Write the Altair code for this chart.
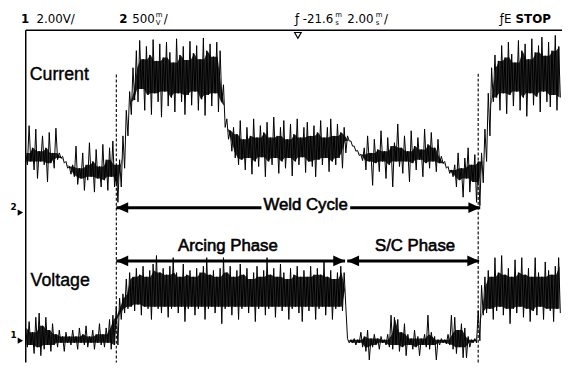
import altair as alt
import pandas as pd

SAMPLE_MS = 0.125          # one column of the trace every 0.125 ms (2.00 ms/div)

# Channel 2 (current probe, 500 mV/div): top and bottom of the trace in each column
current_hi_mv = [
    700, 1020, 760, 980, 720, 900, 760, 940, 700, 990,
    700, 660, 600, 540,
    560, 780, 520, 700, 560, 820, 600, 740, 540, 800, 620, 760, 840, 560,
    620, 900, 1200, 1420, 1700,
    1900, 2020, 1800, 1950, 1850, 2030, 1780, 1980, 1820, 2000, 1880, 1760, 2040,
    1850, 1950, 1790, 2010, 1870, 1960, 1800, 2050, 1900, 1980, 1830, 2000, 1900,
    1500, 1100, 960,
    1000, 920, 1080, 860, 1000, 900, 1100, 880, 1020, 940, 1060, 880, 1120, 900,
    1000, 1080, 860, 1040, 920, 1100, 880, 1000, 1060, 900, 1020, 940, 1080, 880,
    1000, 1100, 900, 1040, 940, 1000,
    900, 840, 780, 730, 680,
    760, 900, 700, 860, 740, 960, 720, 880, 780, 820, 1040, 760, 900, 720, 960,
    780, 880, 740, 980, 800, 940, 760, 860,
    660, 600, 540, 500,
    560, 700, 520, 640, 760, 560, 680, 600,
    700, 980, 1400, 1700,
    1850, 1780, 1960, 1820, 2000, 1860, 1760, 2020, 1900, 1980, 1800, 2040, 1880,
    1960, 2060, 1840, 2000, 1900, 2080, 1950,
]
current_lo_mv = [
    560, 600, 500, 400, 600, 560, 360, 580, 520, 620,
    640, 580, 520, 450,
    420, 330, 400, 260, 380, 420, 240, 400, 300, 380, 260, 420, 300, 120,
    300, 520, 900, 1150, 1320,
    1300, 1450, 1200, 1380, 1150, 1400, 1300, 1120, 1420, 1250, 1350, 1180, 1400,
    1300, 1150, 1380, 1260, 1420, 1200, 1330, 1140, 1380, 1250, 1400, 1180, 1300,
    1000, 860, 720,
    640, 560, 620, 500, 640, 450, 600, 540, 650, 420, 600, 560, 640, 460, 600,
    520, 640, 430, 600, 560, 650, 470, 600, 540, 420, 620, 560, 640, 480, 600,
    560, 640, 520, 700,
    840, 780, 720, 670, 610,
    500, 600, 320, 580, 480, 600, 400, 560, 300, 600, 540, 460, 600, 360, 580,
    500, 620, 420, 580, 520, 600, 480, 580,
    580, 520, 460, 420,
    300, 380, 180, 400, 240, 360, 120, 80,
    350, 600, 900, 1300,
    1350, 1200, 1400, 1160, 1380, 1250, 1420, 1200, 1350, 1130, 1400, 1260, 1360,
    1180, 1420, 1300, 1240, 1380, 1200, 1350,
]

# Channel 1 (arc voltage, 2.00 V/div): top and bottom of the trace in each column
voltage_hi_v = [
    0.6, 0.9, 0.4, 1.1, 1.3, 0.7, 1.1, 0.5, 0.8, 0.3, 0.5, 0.2, 0.4, 0.2, 0.5,
    0.2, 0.6, 0.3, 0.7, 0.2, 0.5, 0.3, 0.8, 0.3, 0.6, 1.0, 1.2,
    1.6, 2.0, 2.2,
    2.9, 3.2, 3.0, 3.4, 3.1, 3.5, 3.0, 3.3, 3.6, 4.0, 3.2, 3.4, 3.1, 3.5, 3.9,
    3.2, 3.0, 3.6, 3.1, 3.3, 3.0, 3.4, 3.2, 3.5, 3.9, 3.1, 3.3, 3.0, 3.4, 3.9,
    3.2, 3.5, 3.0, 3.3, 3.6, 3.1, 3.4, 2.9, 3.2, 3.5, 3.0, 3.3, 3.9, 3.1, 3.4,
    3.0, 3.6, 3.2, 2.9, 3.4, 3.1, 3.5, 3.0, 3.3, 3.0, 3.5, 3.1, 3.4, 3.1, 3.7,
    3.0, 3.3, 2.9, 3.2, 3.5, 3.2,
    0.1,
    0.05, 0.1, 0.05, 0.4, 0.2, 0.5, 0.1, 0.3, 0.1, 0.2, 0.05, 0.3, 1.2, 1.1, 1.0,
    0.4, 0.8, 0.3, 0.1, 0.5, 0.2, 0.1, 0.3, 1.2, 0.4, 0.2, 0.05, 0.1, 0.05, 0.3,
    1.2, 1.1, 0.5, 0.8, 0.6, 0.2, 0.05, 0.1,
    1.4, 2.6,
    3.0, 3.3, 3.0, 3.9, 3.2, 4.0, 3.1, 3.4, 3.0, 3.8, 3.2, 3.9, 3.1, 3.4, 3.0,
    3.9, 3.2, 3.0, 3.7, 3.3, 3.1, 3.5, 3.9,
]
voltage_lo_v = [
    -0.3, -0.2, -0.6, -0.3, -0.7, -0.4, -0.2, -0.5, -0.2, -0.3, -0.1, -0.5, -0.1,
    -0.2, -0.1, -0.4, -0.1, -0.2, -0.3, -0.1, -0.4, -0.1, -0.2, -0.3, -0.1, -0.4, -0.2,
    -0.2, 1.0, 1.3,
    1.5, 1.6, 1.4, 1.7, 1.2, 1.6, 1.5, 1.0, 1.6, 1.5, 1.3, 1.6, 1.1, 1.5, 1.6,
    1.3, 1.6, 0.9, 1.5, 1.6, 1.2, 1.5, 1.6, 1.0, 1.5, 1.6, 1.3, 1.6, 0.8, 1.5,
    1.6, 1.2, 1.6, 1.0, 1.5, 1.6, 1.3, 1.6, 0.9, 1.5, 1.6, 1.2, 1.5, 1.6, 1.1,
    1.6, 1.4, 1.6, 1.0, 1.5, 1.6, 1.3, 0.9, 1.6, 1.4, 1.6, 1.0, 1.5, 1.6, 1.2,
    1.6, 1.0, 1.5, 1.6, 1.4, 1.6,
    -0.1,
    -0.1, -0.2, -0.1, -0.3, -0.5, -0.9, -0.3, -0.2, -0.4, -0.1, -0.2, -0.3, -0.4,
    -0.2, -0.5, -0.3, -0.7, -0.2, -0.4, -0.3, -0.7, -0.2, -0.3, -0.4, -0.2, -0.9,
    -0.2, -0.1, -0.15, -0.2, -0.4, -0.6, -0.3, -0.8, -0.8, -0.3, -0.1, -0.1,
    0.0, 1.2,
    1.3, 1.5, 1.0, 1.4, 1.6, 1.2, 1.5, 0.8, 1.5, 1.3, 1.6, 1.1, 1.5, 0.9, 1.4,
    1.2, 1.6, 1.0, 1.5, 1.4, 0.9, 1.5, 1.3,
]

for arr in (current_hi_mv, current_lo_mv, voltage_hi_v, voltage_lo_v):
    assert len(arr) == 160, len(arr)

# screen settings of the two channels (ground markers, in screen divisions)
CH2_GROUND_DIV, CH2_PER_DIV = 3.72, 500.0   # mV/div
CH1_GROUND_DIV, CH1_PER_DIV = 0.71, 2.0     # V/div

# header read-out of the scope
header_plain = ["2.00V/", "500", "/", "-21.6", "2.00", "/", "\u0192", "\u0192E"]
header_plain_t = [0.40, 3.97, 5.15, 10.33, 11.99, 13.36, 10.04, 17.68]
header_bold = ["1", "2", "STOP"]
header_bold_t = [-0.18, 3.49, 18.27]
unit_top = ["m", "m", "m"]
unit_bot = ["V", "s", "s"]
unit_t = [4.85, 11.54, 13.05]

# ---------------- build the trace tables ----------------
rows, core_rows = [], []
for name, hi, lo, g, s in (
    ("Current", current_hi_mv, current_lo_mv, CH2_GROUND_DIV, CH2_PER_DIV),
    ("Voltage", voltage_hi_v, voltage_lo_v, CH1_GROUND_DIV, CH1_PER_DIV),
):
    n = len(hi)
    for i, (h, l) in enumerate(zip(hi, lo)):
        t = i * SAMPLE_MS
        rows.append({"trace": name, "t": t, "div": g + h / s, "k": 2 * i})
        rows.append({"trace": name, "t": t + SAMPLE_MS / 2, "div": g + l / s, "k": 2 * i + 1})
        # dense core of the trace: the band that neighbouring columns all cover
        nb = range(max(0, i - 1), min(n, i + 2))
        c_hi = min(hi[j] for j in nb)
        c_lo = max(lo[j] for j in nb)
        if c_lo > c_hi:
            c_hi = c_lo = (h + l) / 2
        core_rows.append({"trace": name, "t": t + SAMPLE_MS / 4,
                          "top": g + c_hi / s, "bot": g + c_lo / s})
trace_df = pd.DataFrame(rows)
core_df = pd.DataFrame(core_rows)

XS = alt.Scale(domain=[0, 20], nice=False, zero=False)
YS = alt.Scale(domain=[0.2, 8], nice=False, zero=False)


def X(f):
    return alt.X(f, type="quantitative", scale=XS, axis=None)


def Y(f):
    return alt.Y(f, type="quantitative", scale=YS, axis=None)


core = alt.Chart(core_df).mark_area(color="black", opacity=0.85).encode(
    x=X("t"), y=Y("top"), y2="bot:Q", detail="trace:N"
)
traces = alt.Chart(trace_df).mark_line(color="black", strokeWidth=1.0).encode(
    x=X("t"), y=Y("div"), detail="trace:N", order="k:Q"
)

# frame (top and left edges of the screen)
frame_df = pd.DataFrame({"t1": [0, 0], "t2": [20, 0], "y1": [8, 8], "y2": [8, 0.2]})
frame = alt.Chart(frame_df).mark_rule(color="black", strokeWidth=1.5).encode(
    x=X("t1"), x2="t2:Q", y=Y("y1"), y2="y2:Q"
)

# cursor lines bounding the weld cycle
WELD_START, WELD_END, SC_START, ARC_END = 3.38, 16.95, 11.99, 11.91
dash_df = pd.DataFrame({"t": [3.38, 16.875], "top": [6.96, 6.98], "bot": [0.2, 0.2]})
dashes = alt.Chart(dash_df).mark_rule(color="#222222", strokeWidth=1.3, strokeDash=[3, 2]).encode(
    x=X("t"), y=Y("top"), y2="bot:Q"
)

WELD_Y, PHASE_Y = 3.834, 2.584
shaft_df = pd.DataFrame({
    "t1": [WELD_START, 12.10, WELD_START, SC_START],
    "t2": [8.79, WELD_END, ARC_END, 16.91],
    "y": [WELD_Y, WELD_Y, PHASE_Y, PHASE_Y],
})
shafts = alt.Chart(shaft_df).mark_rule(color="black", strokeWidth=3).encode(
    x=X("t1"), x2="t2:Q", y=Y("y")
)

RIGHT = "M0,0L-1,-0.45L-1,0.45Z"
LEFT = "M0,0L1,-0.45L1,0.45Z"
head_df = pd.DataFrame({
    "t": [WELD_START, WELD_END, WELD_START, ARC_END, SC_START, 16.91],
    "y": [WELD_Y, WELD_Y, PHASE_Y, PHASE_Y, PHASE_Y, PHASE_Y],
    "dir": ["L", "R", "L", "R", "L", "R"],
})
heads = alt.Chart(head_df).mark_point(filled=True, color="black", opacity=1, size=576, strokeWidth=0).encode(
    x=X("t"), y=Y("y"),
    shape=alt.Shape("dir:N", scale=alt.Scale(domain=["L", "R"], range=[LEFT, RIGHT]), legend=None),
)

# labels
side_df = pd.DataFrame({"text": ["Current", "Voltage"], "t": [0.15, 0.18], "y": [6.843, 2.005]})
side = alt.Chart(side_df).mark_text(align="left", baseline="alphabetic", font="Liberation Sans",
                                    fontSize=18, color="black", stroke="black", strokeWidth=0.4).encode(
    x=X("t"), y=Y("y"), text="text:N")

phase_df = pd.DataFrame({"text": ["Weld Cycle", "Arcing Phase", "S/C Phase"],
                         "t": [10.44, 7.54, 14.52], "y": [3.788, 2.815, 2.815]})
phases = alt.Chart(phase_df).mark_text(align="center", baseline="alphabetic", font="Liberation Sans",
                                       fontSize=17, color="black", stroke="black", strokeWidth=0.6).encode(
    x=X("t"), y=Y("y"), text="text:N")

HEAD_Y = 8.27
hp_df = pd.DataFrame({"text": header_plain, "t": header_plain_t, "y": [HEAD_Y] * len(header_plain)})
hp = alt.Chart(hp_df).mark_text(align="left", baseline="middle", font="DejaVu Sans", fontSize=12,
                                color="black").encode(x=X("t"), y=Y("y"), text="text:N")
hb_df = pd.DataFrame({"text": header_bold, "t": header_bold_t, "y": [HEAD_Y] * len(header_bold)})
hb = alt.Chart(hb_df).mark_text(align="left", baseline="middle", font="DejaVu Sans", fontSize=12,
                                fontWeight="bold", color="black").encode(x=X("t"), y=Y("y"), text="text:N")
u_df = pd.DataFrame({"text": unit_top + unit_bot, "t": unit_t + unit_t,
                     "y": [8.36] * len(unit_top) + [8.17] * len(unit_bot)})
units = alt.Chart(u_df).mark_text(align="left", baseline="middle", font="DejaVu Sans", fontSize=7,
                                  color="black").encode(x=X("t"), y=Y("y"), text="text:N")

# channel ground markers and trigger marker
mk_df = pd.DataFrame({"text": ["2", "1"], "t": [-0.45, -0.45], "y": [3.86, 0.85]})
mk_text = alt.Chart(mk_df).mark_text(align="center", baseline="middle", font="DejaVu Sans", fontSize=9,
                                     fontWeight="bold", color="black").encode(x=X("t"), y=Y("y"), text="text:N")
mk_arrow_df = pd.DataFrame({"t": [-0.2, -0.2], "y": [CH2_GROUND_DIV, CH1_GROUND_DIV]})
mk_arrow = alt.Chart(mk_arrow_df).mark_point(shape="triangle-right", filled=True, color="black",
                                             size=40, opacity=1).encode(x=X("t"), y=Y("y"))
trig_df = pd.DataFrame({"t": [10.15], "y": [7.88]})
trig = alt.Chart(trig_df).mark_point(shape="triangle-down", filled=False, color="black",
                                     size=45, strokeWidth=1.2, opacity=1).encode(x=X("t"), y=Y("y"))

chart = alt.layer(
    frame, dashes, core, traces, shafts, heads, side, phases, hp, hb, units, mk_text, mk_arrow, trig
).properties(
    width=544, height=337,
    autosize=alt.AutoSizeParams(type="none"),
    padding={"left": 18, "top": 20, "right": 0, "bottom": 0},
    background="white",
).configure_view(stroke=None)

chart.save("out.html", embed_options={"renderer": "svg", "actions": False})
